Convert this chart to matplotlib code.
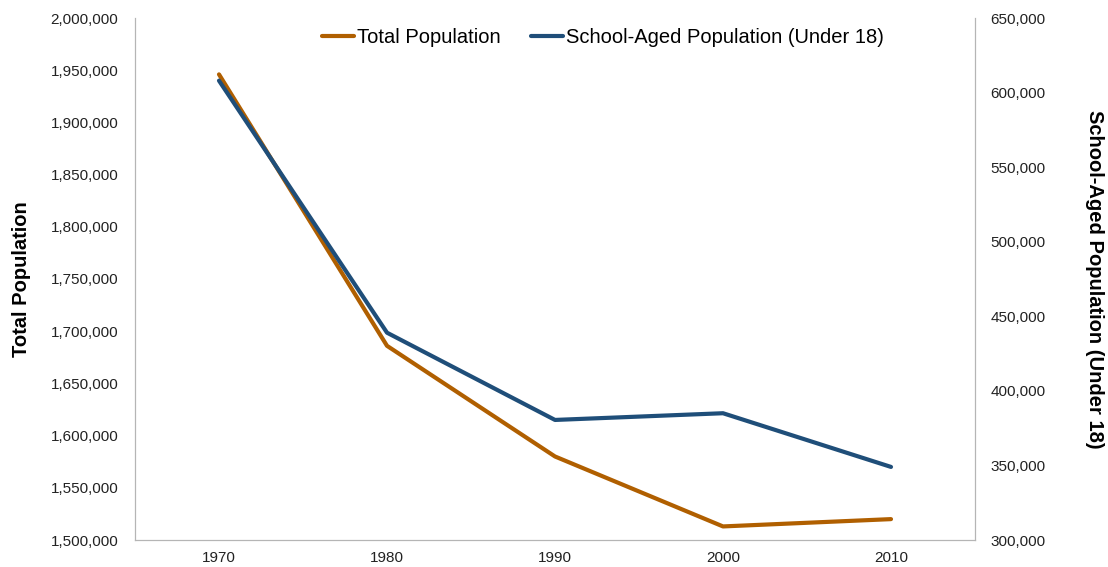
import matplotlib.pyplot as plt
from matplotlib.ticker import FuncFormatter

years = [1970, 1980, 1990, 2000, 2010]
total_population = [1946000, 1686000, 1580000, 1513000, 1520000]
school_aged = [608000, 439000, 380500, 385000, 349000]

plt.rcParams['font.family'] = ['Liberation Sans', 'DejaVu Sans']

orange = '#b05f00'
blue = '#1f4e79'
spine_color = '#b5b5b5'

fig = plt.figure(figsize=(11.08, 5.67), dpi=100)
ax = fig.add_axes([135 / 1108, 1 - 540 / 567, (975 - 135) / 1108, (540 - 18) / 567])
ax2 = ax.twinx()

l1, = ax.plot(years, total_population, color=orange, linewidth=3, solid_capstyle='round',
              label='Total Population')
l2, = ax2.plot(years, school_aged, color=blue, linewidth=3, solid_capstyle='round',
               label='School-Aged Population (Under 18)')

ax.set_xlim(1965, 2015)
ax.set_ylim(1500000, 2000000)
ax2.set_ylim(300000, 650000)
ax.set_xticks(years)
ax.set_yticks(range(1500000, 2000001, 50000))
ax2.set_yticks(range(300000, 650001, 50000))

fmt = FuncFormatter(lambda v, p: '{:,.0f}'.format(v))
ax.yaxis.set_major_formatter(fmt)
ax2.yaxis.set_major_formatter(fmt)

for a in (ax, ax2):
    a.spines['top'].set_visible(False)
    for s in ('left', 'right', 'bottom'):
        a.spines[s].set_color(spine_color)
    a.tick_params(length=0, labelsize=11, colors='#222222')
ax.tick_params(axis='y', pad=12)
ax2.tick_params(axis='y', pad=11)
ax.tick_params(axis='x', pad=8)

ax.set_ylabel('Total Population', fontsize=14.5, fontweight='bold', labelpad=14)
ax2.set_ylabel('School-Aged Population (Under 18)', fontsize=14.5, fontweight='bold',
               rotation=270, labelpad=42)

fig.legend(handles=[l1, l2], loc='upper left', bbox_to_anchor=(304 / 1108, 1 - 10 / 567),
           ncol=2, frameon=False, fontsize=14.5, handlelength=1.6, handletextpad=0.15,
           columnspacing=1.5)

fig.savefig('out.png', dpi=100)
